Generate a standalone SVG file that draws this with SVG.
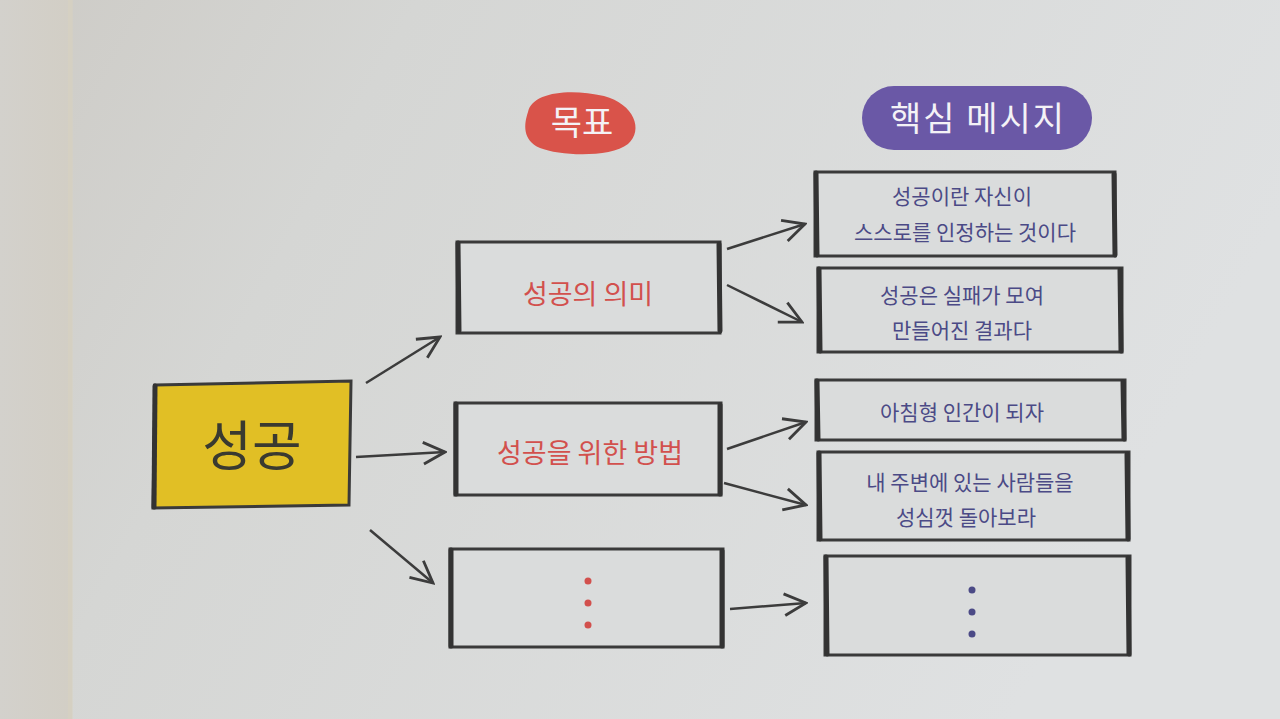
<svg xmlns="http://www.w3.org/2000/svg" width="1280" height="719" viewBox="0 0 1280 719">
<defs>
<linearGradient id="page" x1="0" y1="0" x2="1" y2="0.3">
<stop offset="0" stop-color="#cdcbc6"/>
<stop offset="0.3" stop-color="#d5d6d4"/>
<stop offset="1" stop-color="#dfe1e2"/>
</linearGradient>
<linearGradient id="gutter" x1="0" y1="0" x2="1" y2="0">
<stop offset="0" stop-color="#d3d1cc"/>
<stop offset="1" stop-color="#d2cec5"/>
</linearGradient>
<marker id="arr" viewBox="0 0 12 12" refX="11" refY="6" markerWidth="26" markerHeight="26" markerUnits="userSpaceOnUse" orient="auto">
<path d="M1,1 L11,6 L1,11" fill="none" stroke="#3c3c3c" stroke-width="1.3" stroke-linejoin="miter"/>
</marker>
<style>
.box{fill:#dadcdc;stroke:#3a3a3a;stroke-width:3}
.side{stroke:#333;stroke-width:5;stroke-linecap:round}
.goal{font-family:"Noto Sans CJK KR","Noto Sans",sans-serif;fill:#d2504d;font-size:27px;text-anchor:middle}
.msg{font-family:"Noto Sans CJK KR","Noto Sans",sans-serif;fill:#4b4a86;font-size:21px;text-anchor:middle}
.hdr{font-family:"Noto Sans CJK KR","Noto Sans",sans-serif;fill:#f4f2f6;font-size:34px;text-anchor:middle}
.conn line{stroke:#3c3c3c;stroke-width:2.5;fill:none}
</style>
</defs>
<rect width="1280" height="719" fill="url(#page)"/>
<rect x="0" y="0" width="72" height="719" fill="url(#gutter)"/>
<rect x="68" y="0" width="5" height="719" fill="#d8d1c0" opacity="0.5"/>

<g id="header-goal">
<path d="M528,112 C532,92 570,88 604,96 C634,104 644,130 628,144 C610,158 560,156 540,148 C522,140 524,124 528,112 Z" fill="#d9534a"/>
<text class="hdr" x="582" y="135">목표</text>
</g>
<g id="header-message">
<rect x="862" y="86" width="230" height="64" rx="32" fill="#6a58a6"/>
<text class="hdr" x="978" y="131" letter-spacing="2">핵심 메시지</text>
</g>

<g id="root">
<path d="M155,385 L351,381 L349,505 L153,508 Z" fill="#e1bf25" stroke="#3a3a3a" stroke-width="3"/>
<line class="side" x1="155" y1="386" x2="154" y2="507"/>
<text x="252" y="466" font-family="'Noto Sans CJK KR','Noto Sans',sans-serif" font-size="54" fill="#3a3a30" text-anchor="middle">성공</text>
</g>

<g id="goal1">
<rect class="box" x="457" y="242" width="263" height="91"/>
<line class="side" x1="458" y1="243" x2="459" y2="331"/>
<line class="side" x1="719" y1="244" x2="720" y2="331"/>
<text class="goal" x="588" y="304">성공의 의미</text>
</g>
<g id="goal2">
<rect class="box" x="455" y="403" width="266" height="92"/>
<line class="side" x1="456" y1="404" x2="456" y2="494"/>
<line class="side" x1="720" y1="405" x2="720" y2="494"/>
<text class="goal" x="590" y="463" font-size="30">성공을 위한 방법</text>
</g>
<g id="goal3">
<rect class="box" x="450" y="549" width="273" height="98"/>
<line class="side" x1="451" y1="550" x2="451" y2="646"/>
<line class="side" x1="722" y1="551" x2="722" y2="646"/>
<circle cx="588" cy="581" r="3.5" fill="#d2504d"/>
<circle cx="588" cy="603" r="3.5" fill="#d2504d"/>
<circle cx="588" cy="625" r="3.5" fill="#d2504d"/>
</g>

<g id="msg1">
<rect class="box" x="815" y="172" width="300" height="84"/>
<line class="side" x1="816" y1="173" x2="817" y2="255"/>
<line class="side" x1="1114" y1="174" x2="1115" y2="255"/>
<text class="msg" x="962" y="204">성공이란 자신이</text>
<text class="msg" x="965" y="240">스스로를 인정하는 것이다</text>
</g>
<g id="msg2">
<rect class="box" x="818" y="268" width="304" height="84"/>
<line class="side" x1="819" y1="269" x2="820" y2="351"/>
<line class="side" x1="1120" y1="270" x2="1121" y2="351"/>
<text class="msg" x="962" y="303">성공은 실패가 모여</text>
<text class="msg" x="962" y="338">만들어진 결과다</text>
</g>
<g id="msg3">
<rect class="box" x="816" y="380" width="309" height="60"/>
<line class="side" x1="817" y1="381" x2="818" y2="439"/>
<line class="side" x1="1123" y1="382" x2="1124" y2="439"/>
<text class="msg" x="962" y="420">아침형 인간이 되자</text>
</g>
<g id="msg4">
<rect class="box" x="818" y="452" width="311" height="88"/>
<line class="side" x1="819" y1="453" x2="820" y2="539"/>
<line class="side" x1="1127" y1="454" x2="1128" y2="539"/>
<text class="msg" x="970" y="490">내 주변에 있는 사람들을</text>
<text class="msg" x="966" y="525">성심껏 돌아보라</text>
</g>
<g id="msg5">
<rect class="box" x="825" y="556" width="305" height="99"/>
<line class="side" x1="826" y1="557" x2="827" y2="654"/>
<line class="side" x1="1128" y1="558" x2="1129" y2="654"/>
<circle cx="972" cy="590" r="3.5" fill="#4b4a86"/>
<circle cx="972" cy="612" r="3.5" fill="#4b4a86"/>
<circle cx="972" cy="634" r="3.5" fill="#4b4a86"/>
</g>

<g id="connectors" class="conn">
<line x1="366" y1="383" x2="440" y2="337" marker-end="url(#arr)"/>
<line x1="356" y1="457" x2="445" y2="452" marker-end="url(#arr)"/>
<line x1="370" y1="530" x2="433" y2="583" marker-end="url(#arr)"/>
<line x1="727" y1="249" x2="805" y2="224" marker-end="url(#arr)"/>
<line x1="727" y1="285" x2="802" y2="322" marker-end="url(#arr)"/>
<line x1="727" y1="449" x2="806" y2="422" marker-end="url(#arr)"/>
<line x1="724" y1="483" x2="806" y2="505" marker-end="url(#arr)"/>
<line x1="730" y1="609" x2="806" y2="603" marker-end="url(#arr)"/>
</g>
</svg>
